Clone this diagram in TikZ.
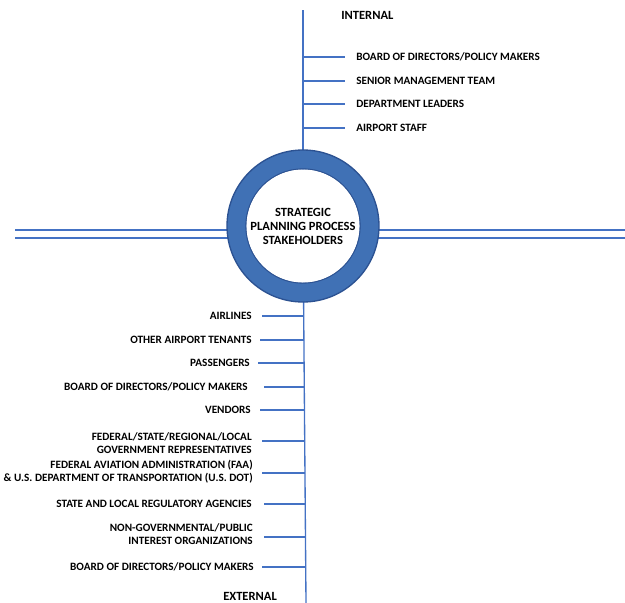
\documentclass[tikz,border=0pt]{standalone}
\usepackage{fontspec}
\setmainfont{Carlito}
\usetikzlibrary{positioning}

\definecolor{spineblue}{RGB}{68,114,196}
\definecolor{ringfill}{RGB}{64,113,181}
\definecolor{ringedge}{RGB}{44,82,146}

\tikzset{
  lbl/.style={inner sep=0.75pt, font=\bfseries\fontsize{8.4}{9.75}\selectfont, text=black},
  biglbl/.style={inner sep=0.75pt, font=\bfseries\fontsize{9.4}{10.5}\selectfont, text=black},
  inlbl/.style={lbl, anchor=west, align=left},
  exlbl/.style={lbl, anchor=east, align=right},
  branch/.style={draw=spineblue, line width=0.8pt},
}

\begin{document}
\begin{tikzpicture}[x=0.75pt,y=0.75pt,yscale=-1,xscale=1]
\useasboundingbox (0,0) rectangle (625,603);

%Spine and cross lines
\coordinate (top) at (303,10);
\coordinate (bot) at (306,603);
\coordinate (hub) at (303,226);
\coordinate (westA) at (15,230);
\coordinate (eastA) at (625,230);
\coordinate (westB) at (15,238);
\coordinate (eastB) at (625,238);
\draw [draw=spineblue, line width=1pt] (top) -- (hub);
\draw [draw=spineblue, line width=1pt] (hub) -- (bot);
\draw [draw=spineblue, line width=1.1pt] (westA) -- (eastA);
\draw [draw=spineblue, line width=1.1pt] (westB) -- (eastB);

%Shape: Ring
\draw [ringedge, fill=ringfill, line width=1pt, even odd rule]
  (hub) circle [radius=76] (hub) circle [radius=57];
\fill [white] (hub) circle [radius=56.5];

% Text Node
\node [biglbl, align=center] (core) at (hub) {STRATEGIC\\PLANNING PROCESS\\STAKEHOLDERS};
% Text Node
\node [biglbl, anchor=west] (internal) at (340,15) {INTERNAL};
% Text Node
\node [biglbl, anchor=west] (external) at (222,596) {EXTERNAL};

%Internal branches
\foreach \y/\name/\txt in {57/i1/{BOARD OF DIRECTORS/POLICY MAKERS},
                           81/i2/{SENIOR MANAGEMENT TEAM},
                           104/i3/{DEPARTMENT LEADERS},
                           128/i4/{AIRPORT STAFF}}{
  \node [inlbl] (\name) at (355,\y) {\txt};
  \coordinate (\name s) at (303.5,\y);
  \coordinate (\name e) at (345,\y);
  \draw [branch] (\name s) -- (\name e);
}

%External branches
\foreach \y/\ly/\tx/\sx/\x/\name/\txt in {316/316/253/262/304.1/e1/{AIRLINES},
                           340/340/253/260/304.2/e2/{OTHER AIRPORT TENANTS},
                           363/363/251/258/304.3/e3/{PASSENGERS},
                           387/387/249/264/304.4/e4/{BOARD OF DIRECTORS/POLICY MAKERS},
                           410/410/252/260/304.5/e5/{VENDORS},
                           441/443/253/262/304.7/e6/{FEDERAL/STATE/REGIONAL/LOCAL\\GOVERNMENT REPRESENTATIVES},
                           473/472/254/262/304.9/e7/{FEDERAL AVIATION ADMINISTRATION (FAA)\\\& U.S. DEPARTMENT OF TRANSPORTATION (U.S. DOT)},
                           504/504/253/264/305.1/e8/{STATE AND LOCAL REGULATORY AGENCIES},
                           537/534/254/264/305.3/e9/{NON-GOVERNMENTAL/PUBLIC\\INTEREST ORGANIZATIONS},
                           567/567/255/262/305.5/e10/{BOARD OF DIRECTORS/POLICY MAKERS}}{
  \node [exlbl] (\name) at (\tx,\ly) {\txt};
  \coordinate (\name s) at (\sx,\y);
  \coordinate (\name e) at (\x,\y);
  \draw [branch] (\name s) -- (\name e);
}

\end{tikzpicture}
\end{document}
